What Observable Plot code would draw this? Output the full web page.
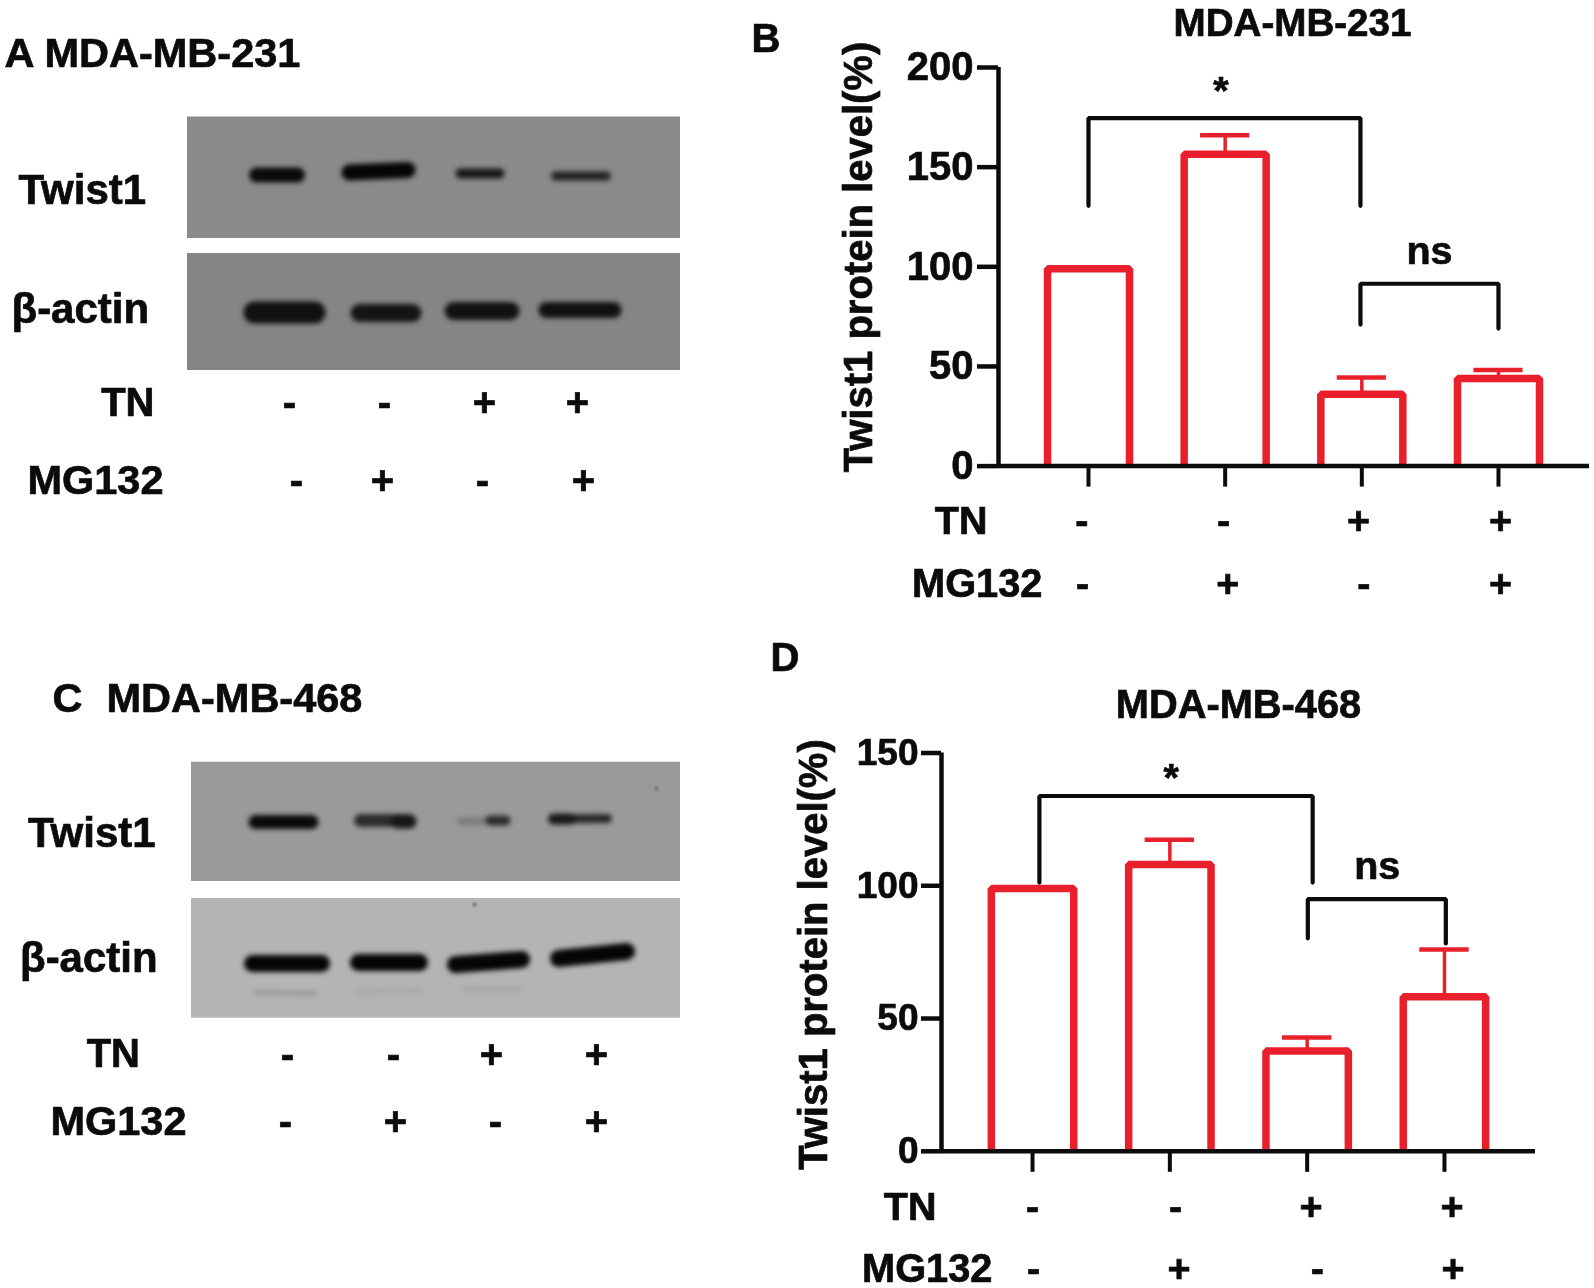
<!DOCTYPE html>
<html>
<head>
<meta charset="utf-8">
<script src="https://cdn.jsdelivr.net/npm/d3@7"></script>
<script src="https://cdn.jsdelivr.net/npm/@observablehq/plot@0.6"></script>
<style>
  html,body{margin:0;padding:0;background:#fff;width:1594px;height:1288px;overflow:hidden}
  #root{position:relative;width:1594px;height:1288px}
  svg{position:absolute;overflow:visible;background:transparent!important;filter:blur(0.6px)}
  svg text{stroke:#0b0b0b;stroke-width:0.7px}
</style>
</head>
<body>
<div id="root"></div>
<script>
const FONT = "'Liberation Sans', Arial, sans-serif";
const RED = "#e9202b";
const INK = "#0b0b0b";

// Shared condition rows
const lanes = [1, 2, 3, 4];
const tnSigns = ["-", "-", "+", "+"];
const mgSigns = ["-", "+", "-", "+"];

// Panel B: MDA-MB-231 densitometry
const bValues = [99, 156.5, 36, 44];
const bErrorTops = [null, 166, 44.5, 48.2];
const bTicks = [0, 50, 100, 150, 200];
const bBracketX = [[1, 1, 2.99, 2.99], [2.99, 2.99, 4, 4]];
const bBracketY = [[130.6, 174.6, 174.6, 130.6], [71, 91.5, 91.5, 69]];
const bTnX = [0.952, 1.988, 2.976, 4.015];
const bMgX = [0.956, 2.02, 3.015, 4.015];

// Panel D: MDA-MB-468 densitometry
const dValues = [99, 108, 37.8, 58.2];
const dErrorTops = [null, 117.3, 42.9, 76];
const dTicks = [0, 50, 100, 150];
const dBracketX = [[1.05, 1.05, 3.04, 3.04], [3.005, 3.005, 4.01, 4.01]];
const dBracketY = [[101.2, 133.8, 133.8, 101.2], [80.2, 95, 95, 78.3]];
const dTnX = [1, 2.041, 3.028, 4.055];
const dMgX = [1.007, 2.067, 3.075, 4.062];

function barChart(c) {
  const err = lanes.map((l, i) => ({lane: l, v: c.values[i], top: c.tops[i]})).filter(d => d.top != null);
  // open-bottomed bar outlines, as in the reference: both sides and the top, no base
  const outline = lanes.flatMap((l, i) => [
    {lane: l, x: l - 0.3, y: 0}, {lane: l, x: l - 0.3, y: c.values[i]},
    {lane: l, x: l + 0.3, y: c.values[i]}, {lane: l, x: l + 0.3, y: 0}
  ]);
  const txt = {fontSize: c.fs, fontWeight: "bold", fill: INK, lineAnchor: "bottom"};
  const at = (text, x, y, extra = {}) => Plot.text([text], {
    frameAnchor: "bottom-left", dx: x - c.axisX, dy: y - c.zeroY, textAnchor: "start", ...txt, ...extra
  });
  const plot = Plot.plot({
    width: c.w, height: c.h,
    marginLeft: c.axisX - c.left, marginRight: c.left + c.w - c.right,
    marginTop: c.topY - c.top, marginBottom: c.top + c.h - c.zeroY,
    style: {fontFamily: FONT, background: "transparent", color: INK},
    x: {domain: c.xDomain, axis: null},
    y: {domain: [0, c.yMax], axis: null},
    marks: [
      Plot.line(outline, {
        x: "x", y: "y", z: "lane", fill: "none", stroke: RED, strokeWidth: 7.5,
        strokeLinejoin: "miter", strokeLinecap: "butt"
      }),
      Plot.ruleX(err, {x: "lane", y1: "v", y2: "top", stroke: RED, strokeWidth: 3.5}),
      Plot.ruleY(err, {y: "top", x1: d => d.lane - 0.18, x2: d => d.lane + 0.18, stroke: RED, strokeWidth: 4.5}),
      Plot.axisY({
        ticks: c.ticks, tickSize: c.axisX - c.tickLeft, tickPadding: c.tickLeft - c.tickLabelRight,
        strokeWidth: 4.5, fontSize: c.tickFs, fontWeight: "bold", label: null, fill: INK, stroke: INK, tickFormat: d => String(d)
      }),
      Plot.axisX({
        ticks: lanes, tickSize: 21, strokeWidth: 4, tickFormat: () => "", label: null, stroke: INK
      }),
      Plot.ruleX([c.xDomain[0]], {y1: 0, y2: c.yMax, stroke: INK, strokeWidth: 4.5}),
      Plot.ruleY([0], {stroke: INK, strokeWidth: 4.5}),
      ...c.bracketX.map((bx, k) => Plot.line(bx, {
        x: bx, y: c.bracketY[k], stroke: INK, strokeWidth: 4.2, strokeLinejoin: "miter"
      })),
      Plot.text(["*"], {x: [c.star[0]], y: [c.star[1]], ...txt}),
      Plot.text(["ns"], {x: [c.ns[0]], y: [c.ns[1]], ...txt}),
      Plot.text(tnSigns, {x: c.tnX, frameAnchor: "bottom", dy: c.tnY - c.zeroY, ...txt}),
      Plot.text(mgSigns, {x: c.mgX, frameAnchor: "bottom", dy: c.mgY - c.zeroY, ...txt}),
      at("TN", c.tnLabelX, c.tnY, {textAnchor: "end", fontSize: 39.5}),
      at("MG132", c.mgLabelX, c.mgY, {textAnchor: "end", fontSize: 39.8}),
      at(c.letter[0], c.letter[1], c.letter[2], {fontSize: 40}),
      at(c.title[0], c.title[1], c.title[2], {textAnchor: "middle", fontSize: c.title[3]}),
      at("Twist1 protein level(%)", c.yLab[0], c.yLab[1], {textAnchor: "middle", rotate: -90, fontSize: 40})
    ]
  });
  plot.style.left = c.left + "px";
  plot.style.top = c.top + "px";
  return plot;
}

// Blot bands of panel A, read in image units
const aBandX1 = [256, 349, 460, 555, 254, 359, 453, 546];
const aBandX2 = [297, 407, 499, 606, 314, 412, 510, 613];
const aBandY1 = [174.5, 172, 173, 175.5, 312, 312.5, 310.5, 309.5];
const aBandY2 = [174.5, 169.5, 173, 175.5, 312, 312.5, 310.5, 309.5];
const aBandW = [15, 16, 10, 9, 22, 18, 18, 16];
const aBandShade = ["#0a0a0a", "#050505", "#181818", "#222222", "#111111", "#151515", "#121212", "#111111"];
const aGels = [[187, 680, 116.5, 238, "#8a8a8a"], [187, 680, 253, 370, "#858585"]];
const aLabels = [
  ["A MDA-MB-231", 4, 66, "start", 41.5], ["Twist1", 18, 203, "start", 42], ["β-actin", 11, 322, "start", 42],
  ["TN", 154, 415.5, "end", 40], ["MG132", 163, 493.5, "end", 41.5]
];
const aTnX = [289, 384, 484, 577];
const aMgX = [296, 382, 482, 583];
const aRowY = [415, 493];

// Blot bands of panel C
const cBandX1 = [255, 360, 397, 460, 490, 553, 553, 252, 358, 455, 558, 255, 358, 463];
const cBandX2 = [311, 408, 409, 490, 505, 607, 570, 321, 419, 521, 626, 315, 420, 520];
const cBandY1 = [821.5, 820, 821, 821, 820, 818.5, 818.5, 963, 962, 964, 958, 992, 991, 989];
const cBandY2 = [821.5, 820, 821, 820.5, 820, 818, 818.5, 963, 962, 959, 951, 993, 990, 989];
const cBandW = [14, 13, 14, 7, 10, 9, 11, 17, 17, 17, 17, 4, 3, 3];
const cBandShade = ["#0a0a0a", "#2c2c2c", "#181818", "#7a7a7a", "#2c2c2c", "#282828", "#181818", "#050505", "#050505", "#050505", "#050505", "#959595", "#a2a2a2", "#a0a0a0"];
const cGels = [[191, 680, 761.7, 881, "#9a9a9a"], [191, 680, 898, 1017.7, "#b4b4b4"]];
const cSpeckX = [656, 474];
const cSpeckY = [788, 904];
const cLabels = [
  ["C", 52, 711, "start", 41.5], ["MDA-MB-468", 106, 711, "start", 41.5], ["Twist1", 27.5, 846.5, "start", 42], ["β-actin", 19.5, 971.5, "start", 42],
  ["TN", 139.5, 1066.5, "end", 40], ["MG132", 186, 1134.5, "end", 41.5]
];
const cTnX = [287, 393, 491, 596];
const cMgX = [285, 395, 495, 596];
const cRowY = [1067, 1134];

function blot(c) {
  const idx = d3.range(c.x1.length);
  const gels = c.gels.map(g => ({x1: g[0], x2: g[1], y1: g[2], y2: g[3], fill: g[4]}));
  const txt = {fontSize: 40, fontWeight: "bold", fill: INK, lineAnchor: "bottom"};
  const plot = Plot.plot({
    width: 720, height: c.yDomain[1] - c.yDomain[0],
    margin: 0,
    style: {fontFamily: FONT, background: "transparent"},
    x: {domain: [0, 720], range: [0, 720], axis: null},
    y: {domain: c.yDomain, range: [0, c.yDomain[1] - c.yDomain[0]], axis: null},
    marks: [
      Plot.rect(gels, {x1: "x1", x2: "x2", y1: "y1", y2: "y2", fill: "fill"}),
      Plot.link(idx, {
        x1: i => c.x1[i], x2: i => c.x2[i], y1: i => c.y1[i], y2: i => c.y2[i],
        stroke: i => c.shade[i], strokeWidth: i => c.w[i], strokeLinecap: "round", imageFilter: "blur(2.5px)"
      }),
      ...(c.speckX ? [Plot.dot(c.speckX, {x: c.speckX, y: c.speckY, r: 2, fill: "#6e6e6e", imageFilter: "blur(1px)"})] : []),
      ...c.labels.map(d => Plot.text([d[0]], {x: [d[1]], y: [d[2]], ...txt, textAnchor: d[3], fontSize: d[4]})),
      Plot.text(tnSigns, {x: c.tnX, y: () => c.rowY[0], ...txt}),
      Plot.text(mgSigns, {x: c.mgX, y: () => c.rowY[1], ...txt})
    ]
  });
  plot.style.left = "0px";
  plot.style.top = c.yDomain[0] + "px";
  return plot;
}

const root = document.getElementById("root");

root.append(blot({
  yDomain: [0, 520], gels: aGels, x1: aBandX1, x2: aBandX2, y1: aBandY1, y2: aBandY2, w: aBandW, shade: aBandShade,
  labels: aLabels, tnX: aTnX, mgX: aMgX, rowY: aRowY
}));

root.append(blot({
  yDomain: [640, 1160], gels: cGels, x1: cBandX1, x2: cBandX2, y1: cBandY1, y2: cBandY2, w: cBandW, shade: cBandShade,
  speckX: cSpeckX, speckY: cSpeckY, labels: cLabels, tnX: cTnX, mgX: cMgX, rowY: cRowY
}));

root.append(barChart({
  left: 740, top: 0, w: 854, h: 620, axisX: 998, right: 1589, topY: 67, zeroY: 465.6,
  xDomain: [0.3415, 4.666], yMax: 200, values: bValues, tops: bErrorTops, ticks: bTicks,
  tickLeft: 977, tickLabelRight: 973, fs: 39.5, tickFs: 40,
  bracketX: bBracketX, bracketY: bBracketY, star: [1.97, 181.5], ns: [3.495, 101.4],
  tnX: bTnX, mgX: bMgX, tnY: 533, mgY: 596, tnLabelX: 987, mgLabelX: 1042,
  letter: ["B", 751, 51], title: ["MDA-MB-231", 1292, 35.5, 38.6], yLab: [871, 256.5]
}));

root.append(barChart({
  left: 760, top: 640, w: 834, h: 648, axisX: 941, right: 1535, topY: 752.5, zeroY: 1150.8,
  xDomain: [0.337, 4.663], yMax: 150, values: dValues, tops: dErrorTops, ticks: dTicks,
  tickLeft: 921, tickLabelRight: 918, fs: 39.5, tickFs: 37,
  bracketX: dBracketX, bracketY: dBracketY, star: [2.01, 135.8], ns: [3.51, 102.7],
  tnX: dTnX, mgX: dMgX, tnY: 1219, mgY: 1281, tnLabelX: 936, mgLabelX: 992,
  letter: ["D", 770, 670], title: ["MDA-MB-468", 1238, 717, 39.8], yLab: [826, 954]
}));
</script>
</body>
</html>
